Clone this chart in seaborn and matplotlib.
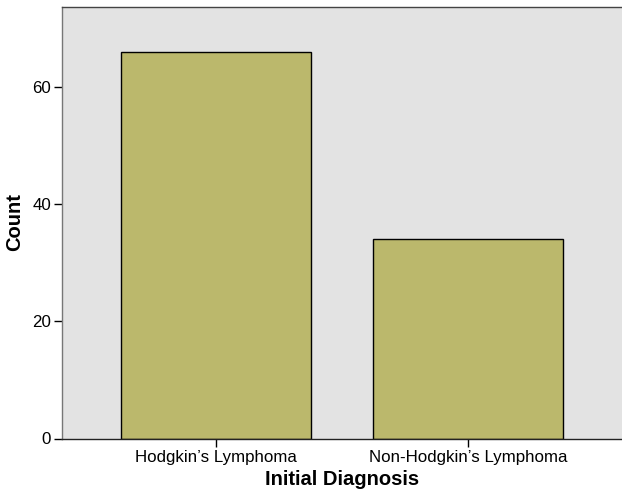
import matplotlib
matplotlib.use("Agg")
import matplotlib.pyplot as plt
import seaborn as sns
import pandas as pd

categories = ["Hodgkin\u2019s Lymphoma", "Non-Hodgkin\u2019s Lymphoma"]
counts = [66, 34]
yticks = [0, 20, 40, 60]

sns.set_style("white")
plt.rcParams["font.family"] = ["Liberation Sans", "DejaVu Sans"]
plt.rcParams["text.color"] = "black"
plt.rcParams["axes.labelcolor"] = "black"
plt.rcParams["xtick.color"] = "black"
plt.rcParams["ytick.color"] = "black"

df = pd.DataFrame({"diag": categories, "count": counts})

fig = plt.figure(figsize=(6.22, 4.95), dpi=100)
ax = fig.add_axes([62 / 622, (495 - 438.5) / 495, 1 - 62 / 622, (438.5 - 6.5) / 495])
ax.set_facecolor("#E3E3E3")

sns.barplot(data=df, x="diag", y="count", color="#BBB86C", saturation=1,
            width=0.753, edgecolor="#000000", linewidth=1.0, ax=ax, zorder=2)

ax.set_xlim(-0.61, 1.61)
ax.set_ylim(0, 73.7)
ax.set_yticks(yticks)
ax.set_yticklabels([str(v) for v in yticks])
ax.tick_params(axis="both", direction="out", length=6, width=1, colors="black",
               labelsize=12.2, pad=2, left=True, bottom=True)
ax.set_xlabel("Initial Diagnosis", fontsize=14.5, fontweight="bold", labelpad=4, color="black")
ax.set_ylabel("Count", fontsize=14.5, fontweight="bold", labelpad=6, color="black")

for side in ["left", "top", "bottom", "right"]:
    ax.spines[side].set_visible(True)
    ax.spines[side].set_linewidth(1.0)
ax.spines["left"].set_color("#777777")
ax.spines["top"].set_color("#444444")
ax.spines["bottom"].set_color("#222222")
ax.spines["right"].set_visible(False)

fig.savefig("out.png", dpi=100)
